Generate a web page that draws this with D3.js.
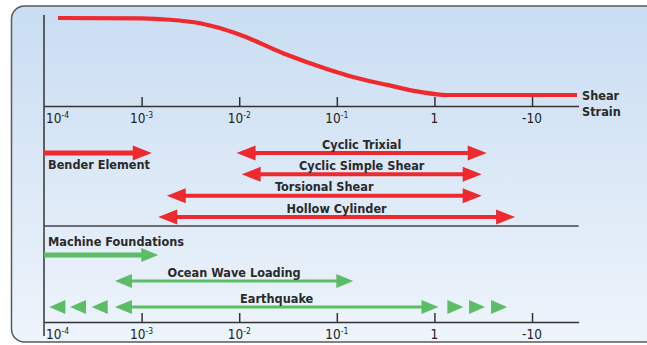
<!DOCTYPE html>
<html>
<head>
<meta charset="utf-8">
<script src="https://cdn.jsdelivr.net/npm/d3@7"></script>
<style>
  body { margin: 0; background: #ffffff; }
  svg { display: block; }
  .lbl { font-family: "DejaVu Sans Condensed", "DejaVu Sans", sans-serif; font-weight: bold; font-size: 12.6px; fill: #2a2a2a; }
  .tick-lbl { font-family: "DejaVu Sans Condensed", "DejaVu Sans", sans-serif; font-size: 13.5px; fill: #222; }
</style>
</head>
<body>
<div id="chart"></div>
<script>
// strain axis ticks
const tickValues = [1e-4, 1e-3, 1e-2, 1e-1, 1, 10];
const tickBase = ["10", "10", "10", "10", "1", "-10"];
const tickExp = ["-4", "-3", "-2", "-1", "", ""];

// modulus reduction curve (G/Gmax vs shear strain)
const curveStrain = [1.39e-4, 1e-3, 1.95e-3, 3.96e-3, 0.0102, 0.0281, 0.085, 0.147, 0.327, 0.711, 1.35, 28.9];
const curveRatio  = [1.0, 0.995, 0.98, 0.94, 0.81, 0.60, 0.41, 0.33, 0.24, 0.16, 0.125, 0.125];

// laboratory test methods (red)
const testNames = ["Bender Element", "Cyclic Trixial", "Cyclic Simple Shear", "Torsional Shear", "Hollow Cylinder"];
const testFrom  = [1e-4, 0.0094, 0.0106, 0.00181, 0.00148];
const testTo    = [0.00127, 3.43, 3.05, 3.05, 6.7];
const testRow   = [0, 0, 1, 2, 3];

// field loading conditions (green)
const loadNames = ["Machine Foundations", "Ocean Wave Loading", "Earthquake"];
const loadFrom  = [1e-4, 5.33e-4, 5.33e-4];
const loadTo    = [0.00148, 0.1476, 1.1];
const loadRow   = [0, 1, 2];
// extra chevrons on the earthquake range
const quakeLeftTips  = [1.135e-4, 1.85e-4, 3.08e-4];
const quakeRightTips = [1.98, 3.3, 5.55];

const width = 647, height = 345;
const red = "#ee2a2f", green = "#5dbd67";

const svg = d3.select("#chart").append("svg")
    .attr("width", width)
    .attr("height", height);

// panel background
let grad = svg.append("defs").append("linearGradient")
    .attr("id", "bg").attr("x1", 0).attr("y1", 0).attr("x2", 0).attr("y2", 1);
grad.append("stop").attr("offset", "0%").attr("stop-color", "#c9ddf2");
grad.append("stop").attr("offset", "100%").attr("stop-color", "#eef4fb");

svg.append("rect")
    .attr("x", 11.5).attr("y", 6).attr("width", 700).attr("height", 336)
    .attr("rx", 13)
    .attr("fill", "url(#bg)")
    .attr("stroke", "#5a5a5a")
    .attr("stroke-width", 1.5);

// scales
const x = d3.scaleLog().domain([1e-4, 30]).range([44, 578.6]);
const yCurve = d3.scaleLinear().domain([0, 1]).range([106, 18]);
const yTest = d3.scalePoint().domain([0, 1, 2, 3]).range([153, 217]);
const yLoad = d3.scalePoint().domain([0, 1, 2]).range([255, 307]);

// vertical axis line
svg.append("line")
    .attr("x1", 44).attr("x2", 44).attr("y1", 15).attr("y2", 336)
    .attr("stroke", "#333").attr("stroke-width", 1.5);

// horizontal strain axes (top and bottom)
function drawAxis(yPos) {
    let g = svg.append("g").attr("transform", "translate(0," + yPos + ")");
    let axis = d3.axisBottom(x)
        .tickValues(tickValues)
        .tickSize(-9)
        .tickSizeOuter(0)
        .tickFormat("");
    g.call(axis);
    g.select(".domain").attr("stroke", "#333").attr("stroke-width", 1.5);
    g.selectAll(".tick line").attr("stroke", "#333").attr("stroke-width", 1.5)
        .filter((d, i) => i == 0).remove();
    g.selectAll(".tick text").remove();

    let labels = g.selectAll("text.tick-lbl")
        .data(tickValues)
        .enter()
        .append("text")
        .attr("class", "tick-lbl")
        .attr("x", (d, i) => i == 0 ? x(d) + 2 : x(d))
        .attr("y", 16.5)
        .attr("text-anchor", (d, i) => i == 0 ? "start" : "middle");
    labels.append("tspan").text((d, i) => tickBase[i]);
    labels.append("tspan")
        .attr("font-size", "8.5px")
        .attr("dy", -5)
        .text((d, i) => tickExp[i]);
    return g;
}
drawAxis(106);
drawAxis(322);

// separator between test methods and loading conditions
svg.append("line")
    .attr("x1", x(1e-4)).attr("x2", x(30))
    .attr("y1", 226).attr("y2", 226)
    .attr("stroke", "#444").attr("stroke-width", 1.5);

// the curve
let curvePts = curveStrain.map((s, i) => [x(s), yCurve(curveRatio[i])]);
svg.append("path")
    .attr("d", d3.line().curve(d3.curveMonotoneX)(curvePts))
    .attr("fill", "none")
    .attr("stroke", red)
    .attr("stroke-width", 4.2);

svg.append("text").attr("class", "lbl").attr("x", 582).attr("y", 100).text("Shear");
svg.append("text").attr("class", "lbl").attr("x", 582).attr("y", 116).text("Strain");

// arrow helpers
function head(tipX, y, dir, len, half) {
    // dir = 1 pointing right, -1 pointing left
    let bx = tipX - dir * len;
    return "M" + tipX + "," + y + "L" + bx + "," + (y - half) + "L" + bx + "," + (y + half) + "Z";
}

function drawArrows(names, from, to, rows, yScale, color, opts) {
    let g = svg.append("g");
    names.forEach((name, i) => {
        let y = yScale(rows[i]);
        let x1 = x(from[i]), x2 = x(to[i]);
        let oneSided = from[i] <= 1e-4;
        let lw = oneSided ? opts.thick : opts.thin;
        g.append("line")
            .attr("x1", oneSided ? x1 : x1 + opts.len - 2)
            .attr("x2", x2 - opts.len + 2)
            .attr("y1", y).attr("y2", y)
            .attr("stroke", color)
            .attr("stroke-width", lw);
        g.append("path").attr("d", head(x2, y, 1, opts.len, opts.half)).attr("fill", color);
        if (!oneSided) {
            g.append("path").attr("d", head(x1, y, -1, opts.len, opts.half)).attr("fill", color);
            g.append("text").attr("class", "lbl")
                .attr("x", (x1 + x2) / 2)
                .attr("y", y - 4.5)
                .attr("text-anchor", "middle")
                .text(name);
        } else {
            g.append("text").attr("class", "lbl")
                .attr("x", x1 + 4)
                .attr("y", y + opts.soloDy)
                .text(name);
        }
    });
    return g;
}

drawArrows(testNames, testFrom, testTo, testRow, yTest, red,
    {len: 19, half: 7.5, thick: 5, thin: 4, soloDy: 16});
drawArrows(loadNames, loadFrom, loadTo, loadRow, yLoad, green,
    {len: 17, half: 7, thick: 5, thin: 3, soloDy: -9});

// earthquake chevrons
let quakeY = yLoad(2);
svg.selectAll("path.chev-l")
    .data(quakeLeftTips)
    .enter()
    .append("path")
    .attr("class", "chev-l")
    .attr("d", d => head(x(d), quakeY, -1, 16, 7))
    .attr("fill", green);
svg.selectAll("path.chev-r")
    .data(quakeRightTips)
    .enter()
    .append("path")
    .attr("class", "chev-r")
    .attr("d", d => head(x(d), quakeY, 1, 16, 7))
    .attr("fill", green);
</script>
</body>
</html>
